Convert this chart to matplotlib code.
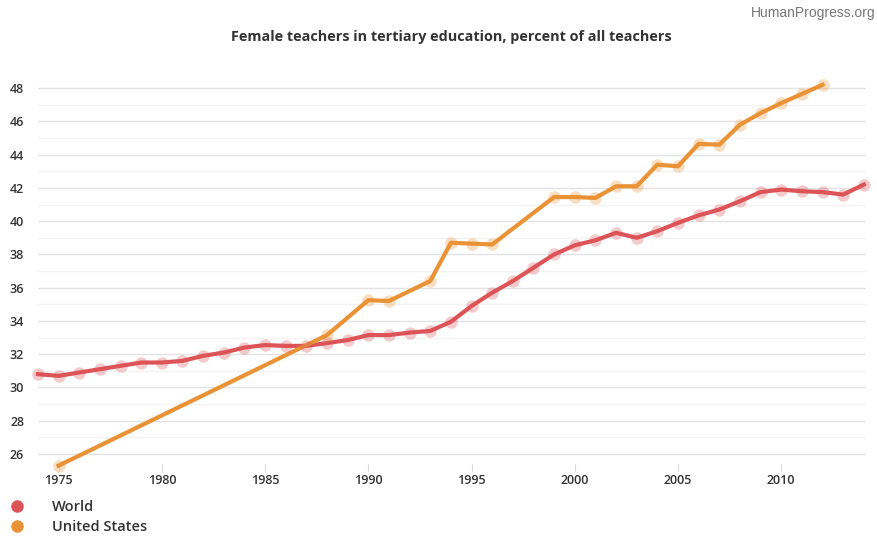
## Female teachers in tertiary education chart

import matplotlib
matplotlib.use('Agg')
import matplotlib.pyplot as plt
from matplotlib.ticker import MultipleLocator

plt.rcParams['font.family'] = ['Open Sans', 'DejaVu Sans']

## Data
world_years = list(range(1974, 2015))
world_vals = [30.8, 30.7, 30.9, 31.1, 31.3, 31.5, 31.5, 31.6, 31.9, 32.1,
              32.4, 32.55, 32.5, 32.5, 32.67, 32.85, 33.15, 33.15, 33.3, 33.4,
              33.95, 34.9, 35.7, 36.4, 37.2, 38.0, 38.55, 38.85, 39.3, 39.0,
              39.4, 39.9, 40.35, 40.7, 41.2, 41.75, 41.9, 41.8, 41.75, 41.6,
              42.2]

us_years = [1975, 1988, 1990, 1991, 1993, 1994, 1995, 1996, 1999, 2000, 2001,
            2002, 2003, 2004, 2005, 2006, 2007, 2008, 2009, 2010, 2011, 2012]
us_vals = [25.3, 33.15, 35.25, 35.2, 36.4, 38.7, 38.65, 38.6, 41.45, 41.45, 41.4,
           42.1, 42.1, 43.4, 43.3, 44.65, 44.6, 45.8, 46.5, 47.1, 47.65, 48.2]

x_ticks = [1975, 1980, 1985, 1990, 1995, 2000, 2005, 2010]
y_ticks = list(range(26, 49, 2))

world_color = '#dc5458'
us_color = '#ea9236'

## Plotting
fig = plt.figure(figsize=(8.77, 5.37), dpi=100)
ax = fig.add_axes([0.0433, 0.136, 0.944, 0.724])

ax.plot(world_years, world_vals, color=world_color, lw=3, zorder=3, clip_on=False)
ax.plot(world_years, world_vals, 'o', color=world_color, ms=9, alpha=0.3,
        mec='none', zorder=4, clip_on=False)
ax.plot(us_years, us_vals, color=us_color, lw=3, zorder=3, clip_on=False)
ax.plot(us_years, us_vals, 'o', color=us_color, ms=9, alpha=0.3,
        mec='none', zorder=4, clip_on=False)

# Axis formatting
ax.set_xlim(1974, 2014.1)
ax.set_ylim(25.4, 48.78)
ax.set_xticks(x_ticks)
ax.set_yticks(y_ticks)
ax.yaxis.set_minor_locator(MultipleLocator(1))
ax.grid(axis='y', which='major', color='#e3e3e3', lw=1)
ax.grid(axis='y', which='minor', color='#f3f3f3', lw=1)
ax.set_axisbelow(True)
for s in ax.spines.values():
    s.set_visible(False)
ax.tick_params(axis='y', which='both', length=0, pad=10, labelsize=9,
               labelcolor='#333333')
ax.tick_params(axis='x', length=5, color='#d8d8d8', pad=2, labelsize=9,
               labelcolor='#333333')
for lab in ax.get_xticklabels() + ax.get_yticklabels():
    lab.set_fontweight('semibold')

# Title and source
fig.text(0.515, 0.931, 'Female teachers in tertiary education, percent of all teachers',
         ha='center', va='center', fontsize=10.4, fontweight='bold', color='#333333')
fig.text(0.998, 0.976, 'HumanProgress.org', ha='right', va='center',
         fontsize=10, color='#777777', family='Liberation Sans')

# Legend
fig.legend(handles=[
    plt.Line2D([], [], ls='none', marker='o', ms=8, color=world_color, label='World'),
    plt.Line2D([], [], ls='none', marker='o', ms=8, color=us_color, label='United States')],
    loc='upper left', bbox_to_anchor=(0.003, 0.08), frameon=False,
    prop={'weight': 'semibold', 'size': 10.5}, labelcolor='#333333',
    handletextpad=1.8, handlelength=1.2, labelspacing=0.42, borderaxespad=0)

fig.savefig('out.png', dpi=100)
